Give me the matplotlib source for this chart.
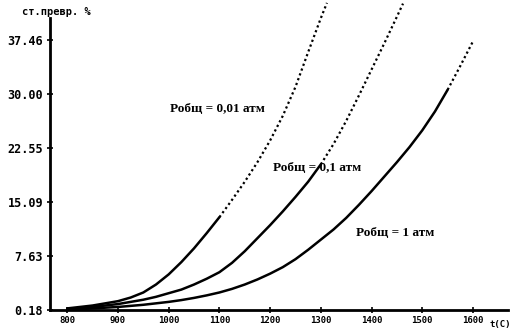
import matplotlib
matplotlib.use('Agg')
import matplotlib.pyplot as plt
import numpy as np

# температура, °C
t_001 = [800, 825, 850, 875, 900, 925, 950, 975, 1000, 1025, 1050, 1075, 1100,
         1125, 1150, 1175, 1200, 1225, 1250, 1275, 1300, 1312]
t_01 = [800, 825, 850, 875, 900, 925, 950, 975, 1000, 1025, 1050, 1075, 1100,
        1125, 1150, 1175, 1200, 1225, 1250, 1275, 1300, 1325, 1350, 1375, 1400,
        1425, 1450, 1462]
t_1 = [800, 850, 900, 950, 1000, 1025, 1050, 1075, 1100, 1125, 1150, 1175, 1200,
       1225, 1250, 1275, 1300, 1325, 1350, 1375, 1400, 1425, 1450, 1475, 1500,
       1525, 1550, 1575, 1600]

# степень превращения, %
v_001 = [0.4, 0.6, 0.8, 1.1, 1.4, 1.9, 2.6, 3.7, 5.1, 6.8, 8.7, 10.8, 13.0,
         15.4, 17.9, 20.6, 23.6, 27.0, 31.0, 35.8, 40.5, 42.6]
v_01 = [0.3, 0.45, 0.6, 0.8, 1.0, 1.3, 1.6, 2.0, 2.5, 3.0, 3.7, 4.5, 5.4,
        6.7, 8.3, 10.1, 11.9, 13.8, 15.8, 17.9, 20.3, 23.1, 26.3, 29.8, 33.4,
        37.0, 40.7, 42.5]
v_1 = [0.2, 0.4, 0.6, 0.9, 1.3, 1.55, 1.85, 2.2, 2.6, 3.1, 3.7, 4.4, 5.2,
       6.1, 7.2, 8.5, 9.9, 11.3, 12.9, 14.7, 16.6, 18.6, 20.6, 22.7, 25.0,
       27.6, 30.6, 33.9, 37.3]

labels = ['Робщ = 0,01 атм', 'Робщ = 0,1 атм', 'Робщ = 1 атм']
yticks = [0.18, 7.63, 15.09, 22.55, 30.00, 37.46]
yticklabels = ['0.18', '7.63', '15.09', '22.55', '30.00', '37.46']
xticks = [800, 900, 1000, 1100, 1200, 1300, 1400, 1500, 1600]

fig = plt.figure(figsize=(5.13, 3.36), dpi=100)
ax = fig.add_axes([50 / 513, 26 / 336, 458 / 513, 310 / 336])

# нижняя часть сплошная, верхняя точками
splits = [1100, 1300, 1550]
for t, v, s in zip([t_001, t_01, t_1], [v_001, v_01, v_1], splits):
    t = np.array(t)
    v = np.array(v)
    lo = t <= s
    hi = t >= s
    ax.plot(t[lo], v[lo], color='black', lw=1.8, solid_joinstyle='round',
            solid_capstyle='round', clip_on=False)
    ax.plot(t[hi], v[hi], color='black', lw=1.6, linestyle=(0, (1, 1.3)), clip_on=False)

ax.set_xlim(766, 1669)
ax.set_ylim(0.18, 43.0)

for sp in ['top', 'right']:
    ax.spines[sp].set_visible(False)
ax.spines['left'].set_bounds(0.18, 40.5)
ax.spines['left'].set_linewidth(2)
ax.spines['bottom'].set_linewidth(2)

ax.set_yticks(yticks)
ax.set_yticklabels(yticklabels, family='DejaVu Sans Mono', fontweight='bold', fontsize=8.5)
ax.set_xticks(xticks)
ax.set_xticklabels([str(x) for x in xticks], family='DejaVu Sans Mono', fontweight='bold', fontsize=6.5)
ax.tick_params(direction='inout', length=4, width=1.2, pad=2)
ax.tick_params(axis='y', pad=3)

fig.text(22 / 513, 1 - 12 / 336, 'ст.превр. %', family='DejaVu Sans Mono', fontweight='bold',
         fontsize=7.5, ha='left', va='center')
fig.text(490 / 513, 11 / 336, 't(C)', family='DejaVu Sans Mono', fontweight='bold',
         fontsize=6.5, ha='left', va='center')

# подписи кривых
ax.text(1002, 28.0, labels[0], family='Liberation Serif', fontweight='bold', fontsize=9.5, va='center')
ax.text(1206, 19.8, labels[1], family='Liberation Serif', fontweight='bold', fontsize=9.5, va='center')
ax.text(1370, 10.8, labels[2], family='Liberation Serif', fontweight='bold', fontsize=9.5, va='center')

fig.savefig('out.png', dpi=100)
